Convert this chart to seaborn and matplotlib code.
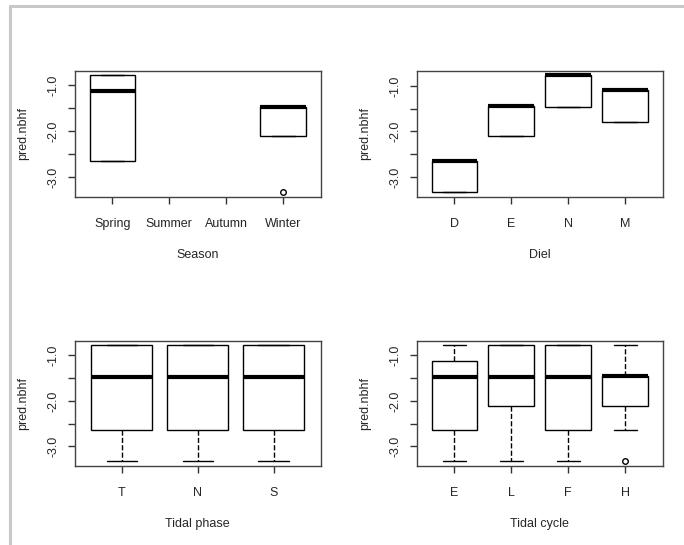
import matplotlib
matplotlib.use("Agg")
import matplotlib.pyplot as plt
import matplotlib.lines as mlines
import seaborn as sns
import pandas as pd

# values (pred.nbhf)
season_cats = ["Spring", "Summer", "Autumn", "Winter"]
season_vals = {
    "Spring": [-2.64, -2.64, -1.11, -0.78, -0.78],
    "Summer": [],
    "Autumn": [],
    "Winter": [-3.32, -2.11, -2.11, -2.11, -1.46, -1.46, -1.46, -1.46, -1.46],
}

diel_cats = ["D", "E", "N", "M"]
diel_vals = {
    "D": [-3.33, -3.33, -2.64, -2.64, -2.64],
    "E": [-2.11, -2.11, -1.45, -1.45, -1.45],
    "N": [-1.46, -1.46, -0.77, -0.77, -0.77],
    "M": [-1.80, -1.80, -1.10, -1.10, -1.10],
}

phase_cats = ["T", "N", "S"]
phase_vals = {
    "T": [-3.33, -2.64, -2.64, -2.64, -1.47, -0.78, -0.78, -0.78, -0.78],
    "N": [-3.33, -2.64, -2.64, -2.64, -1.47, -0.78, -0.78, -0.78, -0.78],
    "S": [-3.33, -2.64, -2.64, -2.64, -1.47, -0.78, -0.78, -0.78, -0.78],
}

cycle_cats = ["E", "L", "F", "H"]
cycle_vals = {
    "E": [-3.33, -2.64, -2.64, -2.64, -1.47, -1.13, -1.13, -1.13, -0.78],
    "L": [-3.33, -2.11, -2.11, -2.11, -1.47, -0.78, -0.78, -0.78, -0.78],
    "F": [-3.33, -2.64, -2.64, -2.64, -1.47, -0.78, -0.78, -0.78, -0.78],
    "H": [-3.32, -2.64, -2.11, -2.11, -1.46, -1.46, -1.46, -1.46, -0.78],
}

y_ticks = [-1.0, -1.5, -2.0, -2.5, -3.0]
y_ticklabels = ["-1.0", "", "-2.0", "", "-3.0"]

sns.set_style("white")
plt.rcParams["font.family"] = ["Liberation Sans", "DejaVu Sans"]

fig = plt.figure(figsize=(6.84, 5.45), dpi=100)

# light grey frame of the screenshot
fig.add_artist(mlines.Line2D([10 / 684, 1], [1 - 5.5 / 545] * 2, color="#c8c8c8", lw=2.2))
fig.add_artist(mlines.Line2D([10 / 684] * 2, [0, 1 - 5.5 / 545], color="#c8c8c8", lw=2.2))


def panel(rect, cats, vals, xlabel):
    ax = fig.add_axes(rect)
    rows = [(c, v) for c in cats for v in vals[c]]
    df = pd.DataFrame(rows, columns=["group", "pred.nbhf"])
    sns.boxplot(data=df, x="group", y="pred.nbhf", order=cats, ax=ax,
                color="white", linecolor="black", linewidth=1, width=0.8,
                fliersize=4,
                medianprops=dict(linewidth=3, color="black"),
                whiskerprops=dict(linestyle="--", linewidth=1, color="black"),
                capprops=dict(linewidth=1, color="black"),
                flierprops=dict(marker="o", markerfacecolor="white",
                                markeredgecolor="black", markeredgewidth=1))
    allv = [v for c in cats for v in vals[c]]
    lo, hi = min(allv), max(allv)
    pad = 0.04 * (hi - lo)
    ax.set_ylim(lo - pad, hi + pad)
    n = len(cats)
    ax.set_xlim(-0.5 - 0.04 * n, n - 0.5 + 0.04 * n)
    ax.set_yticks(y_ticks)
    ax.set_yticklabels(y_ticklabels, rotation=90, va="center", fontsize=9)
    ax.set_xticks(range(n))
    ax.set_xticklabels(cats, fontsize=9)
    ax.tick_params(axis="both", direction="out", length=5, width=1,
                   color="#333333", left=True, bottom=True)
    ax.tick_params(axis="x", pad=10)
    ax.tick_params(axis="y", pad=6)
    ax.set_xlabel(xlabel, fontsize=9, labelpad=14)
    ax.set_ylabel("pred.nbhf", fontsize=9, labelpad=13)
    for s in ax.spines.values():
        s.set_visible(True)
        s.set_color("#444444")
        s.set_linewidth(1)
    return ax


W = 246 / 684
panel([74.7 / 684, 1 - 196.7 / 545, W, 126 / 545], season_cats, season_vals, "Season")
panel([416.7 / 684, 1 - 196.7 / 545, W, 126 / 545], diel_cats, diel_vals, "Diel")
panel([74.7 / 684, 1 - 466 / 545, W, 125.3 / 545], phase_cats, phase_vals, "Tidal phase")
panel([416.7 / 684, 1 - 466 / 545, W, 125.3 / 545], cycle_cats, cycle_vals, "Tidal cycle")

fig.savefig("out.png", dpi=100)
